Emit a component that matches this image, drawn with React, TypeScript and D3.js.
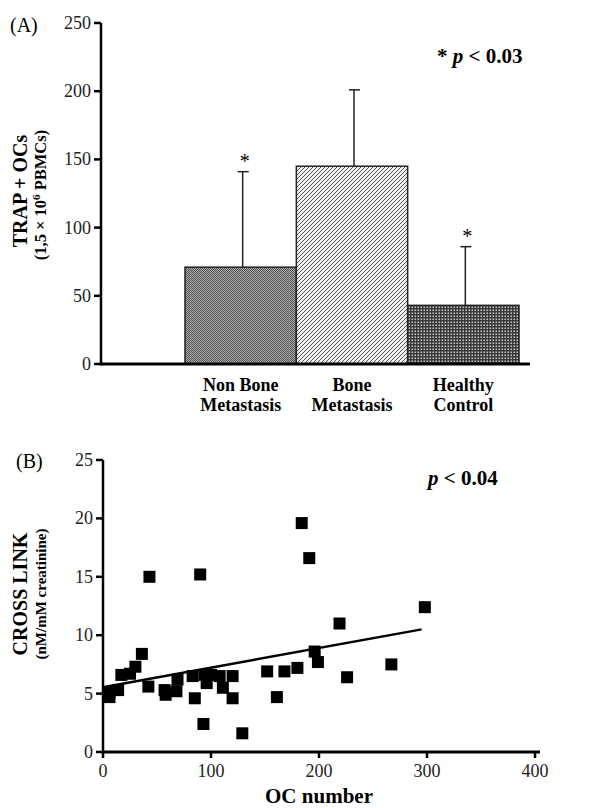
import React from "react";
import * as d3 from "d3";

// panel A: TRAP+ osteoclasts per group
const groups = ["Non Bone|Metastasis", "Bone|Metastasis", "Healthy|Control"];
const groupMeans = [71, 145, 43];
const groupSD = [70, 56, 43];
const groupStar = [true, false, true];
const groupFills = ["url(#patChecker)", "url(#patDiag)", "url(#patDots)"];
const barTicks = [0, 50, 100, 150, 200, 250];

// panel B: cross link vs OC number
const ocNumber = [6, 6, 14, 17, 25, 30, 36, 42, 43, 57, 58, 68, 69, 83, 85, 90, 93, 94, 96, 100, 108, 111, 120, 120, 129, 152, 161, 168, 180, 184, 191, 196, 199, 219, 226, 267, 298];
const crossLink = [5.1, 4.7, 5.3, 6.6, 6.7, 7.3, 8.4, 5.6, 15.0, 5.3, 4.9, 5.2, 6.2, 6.5, 4.6, 15.2, 2.4, 6.6, 5.9, 6.6, 6.5, 5.5, 6.5, 4.6, 1.6, 6.9, 4.7, 6.9, 7.2, 19.6, 16.6, 8.6, 7.7, 11.0, 6.4, 7.5, 12.4];
const fitX = [0, 295];
const fitY = [5.55, 10.5];
const xTicksB = [0, 100, 200, 300, 400];
const yTicksB = [0, 5, 10, 15, 20, 25];

const serif = "'Liberation Serif', 'Times New Roman', serif";

export default function App() {
  // panel A scales
  const yA = d3.scaleLinear().domain([0, 250]).range([364, 23]);
  const xA = d3.scaleBand().domain(groups).range([185, 519]).padding(0);
  const axisLeftA = 101;

  // panel B scales
  const xB = d3.scaleLinear().domain([0, 400]).range([103, 535]);
  const yB = d3.scaleLinear().domain([0, 25]).range([752, 460]);
  const sq = 12;
  const fitLine = d3
    .line<number>()
    .x((d, i) => xB(fitX[i]))
    .y((d) => yB(d));

  return (
    <svg
      width={601}
      height={808}
      style={{ position: "absolute", left: 0, top: 0, background: "#fff" }}
      fontFamily={serif}
    >
      <defs>
        <pattern id="patChecker" width={2} height={2} patternUnits="userSpaceOnUse">
          <rect width={2} height={2} fill="#b0b0b0" />
          <rect x={0} y={0} width={1} height={1} fill="#505050" />
          <rect x={1} y={1} width={1} height={1} fill="#505050" />
        </pattern>
        <pattern id="patDiag" width={4} height={4} patternUnits="userSpaceOnUse">
          <rect width={4} height={4} fill="#f2f2f2" />
          <path d="M-1,1 L1,-1 M0,4 L4,0 M3,5 L5,3" stroke="#555" strokeWidth={1} />
        </pattern>
        <pattern id="patDots" width={3} height={3} patternUnits="userSpaceOnUse">
          <rect width={3} height={3} fill="#383838" />
          <rect x={0.5} y={0.5} width={1.5} height={1.5} fill="#c8c8c8" />
        </pattern>
      </defs>

      {/* ---------- panel A ---------- */}
      <text x={10} y={32} fontSize={20}>(A)</text>
      <text x={437} y={63} fontSize={21} fontWeight="bold">
        * <tspan fontStyle="italic">p</tspan> &lt; 0.03
      </text>

      {groups.map((g, i) => {
        const x0 = xA(g)!;
        const w = xA.bandwidth();
        const cx = x0 + w / 2 + 2;
        const top = yA(groupMeans[i]);
        const errTop = yA(groupMeans[i] + groupSD[i]);
        return (
          <g key={g}>
            <line x1={cx} x2={cx} y1={top} y2={errTop} stroke="#222" strokeWidth={1.5} />
            <line x1={cx - 5} x2={cx + 6} y1={errTop} y2={errTop} stroke="#222" strokeWidth={1.5} />
            <rect x={x0} y={top} width={w} height={yA(0) - top} fill={groupFills[i]} stroke="#222" strokeWidth={1.5} />
            {groupStar[i] && (
              <text x={cx + 2} y={errTop - 4} fontSize={20} textAnchor="middle">*</text>
            )}
            {g.split("|").map((line, j) => (
              <text key={j} x={x0 + w / 2} y={391 + j * 20} fontSize={18} fontWeight="bold" textAnchor="middle">
                {line}
              </text>
            ))}
          </g>
        );
      })}

      <line x1={axisLeftA} x2={axisLeftA} y1={yA(250)} y2={yA(0) + 1.5} stroke="#000" strokeWidth={2.5} />
      <line x1={axisLeftA} x2={530} y1={yA(0)} y2={yA(0)} stroke="#000" strokeWidth={3} />
      {barTicks.map((t) => (
        <g key={t}>
          <line x1={axisLeftA - 7} x2={axisLeftA} y1={yA(t)} y2={yA(t)} stroke="#000" strokeWidth={2.5} />
          <text x={axisLeftA - 10} y={yA(t) + 6} fontSize={18} textAnchor="end" fill="#222">{t}</text>
        </g>
      ))}

      <text transform="translate(27,191) rotate(-90)" fontSize={20} fontWeight="bold" textAnchor="middle">
        TRAP + OCs
      </text>
      <text transform="translate(46,195) rotate(-90)" fontSize={16.5} fontWeight="bold" textAnchor="middle">
        (1,5 × 10<tspan dy={-6} fontSize={11}>6</tspan><tspan dy={6}> PBMCs)</tspan>
      </text>

      {/* ---------- panel B ---------- */}
      <text x={16} y={468} fontSize={20}>(B)</text>
      <text x={428} y={485} fontSize={21} fontWeight="bold">
        <tspan fontStyle="italic">p</tspan> &lt; 0.04
      </text>

      {ocNumber.map((v, i) => (
        <rect key={i} x={xB(v) - sq / 2} y={yB(crossLink[i]) - sq / 2} width={sq} height={sq} fill="#000" />
      ))}
      <path d={fitLine(fitY) ?? ""} fill="none" stroke="#000" strokeWidth={2.5} />

      <line x1={xB(0)} x2={xB(0)} y1={yB(25)} y2={yB(0) + 1.5} stroke="#000" strokeWidth={2.5} />
      <line x1={xB(0) - 1} x2={540} y1={yB(0)} y2={yB(0)} stroke="#000" strokeWidth={3} />
      {yTicksB.map((t) => (
        <g key={t}>
          <line x1={xB(0) - 7} x2={xB(0)} y1={yB(t)} y2={yB(t)} stroke="#000" strokeWidth={2.5} />
          <text x={xB(0) - 10} y={yB(t) + 6} fontSize={18} textAnchor="end" fill="#222">{t}</text>
        </g>
      ))}
      {xTicksB.map((t) => (
        <g key={t}>
          <line x1={xB(t)} x2={xB(t)} y1={yB(0)} y2={yB(0) + 6} stroke="#000" strokeWidth={2.5} />
          <text x={xB(t)} y={777} fontSize={18} textAnchor="middle" fill="#222">{t}</text>
        </g>
      ))}
      <text x={xB(200)} y={803} fontSize={21} fontWeight="bold" textAnchor="middle">OC number</text>

      <text transform="translate(27,594) rotate(-90)" fontSize={20} fontWeight="bold" textAnchor="middle">
        CROSS LINK
      </text>
      <text transform="translate(46,594) rotate(-90)" fontSize={15} fontWeight="bold" textAnchor="middle">
        (nM/mM creatinine)
      </text>
    </svg>
  );
}
